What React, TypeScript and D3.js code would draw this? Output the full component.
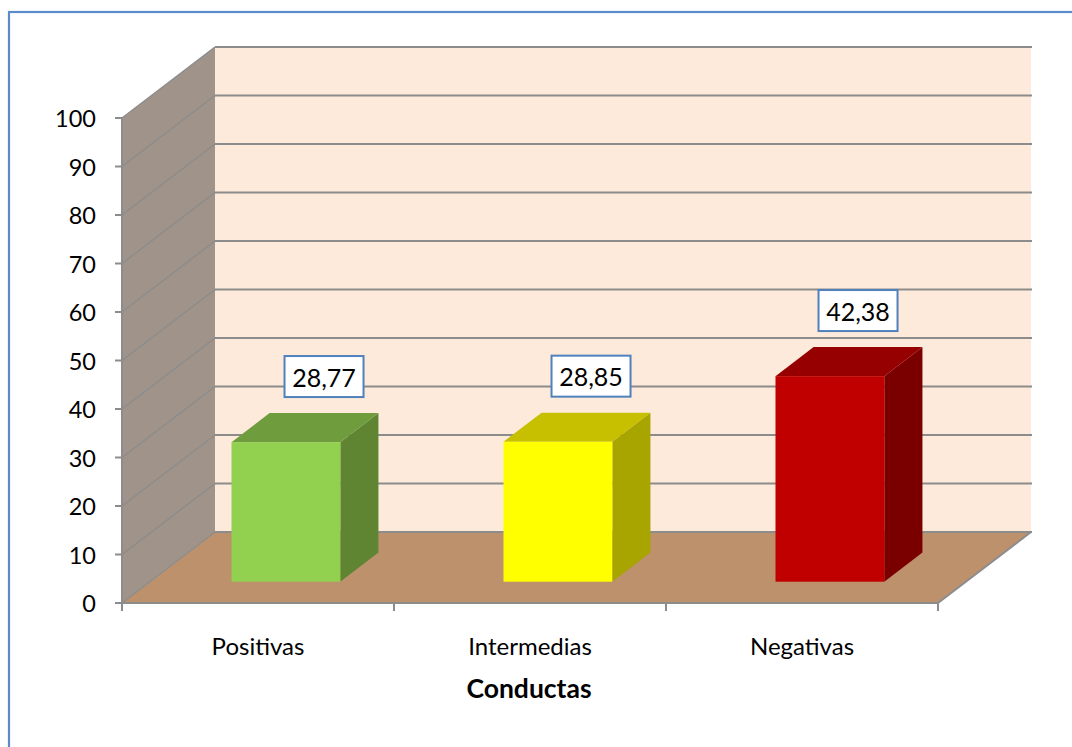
import React from "react";
import * as d3 from "d3";

// Chart data
const categories: string[] = ["Positivas", "Intermedias", "Negativas"];
const values: number[] = [28.77, 28.85, 42.38];
const valueLabels: string[] = ["28,77", "28,85", "42,38"];
const yTicks: number[] = [0, 10, 20, 30, 40, 50, 60, 70, 80, 90, 100];
const axisTitle = "Conductas";

// Bar face colours: front, top, side
const frontColors: string[] = ["#92D050", "#FFFF00", "#C00000"];
const topColors: string[] = ["#6F9C3D", "#C6C000", "#960000"];
const sideColors: string[] = ["#5F8533", "#A8A400", "#7A0000"];

const W = 1072;
const H = 747;

// Front plane of the 3D box
const X0 = 122;
const X1 = 938;
const Y0 = 603;
const Y1 = 118;
// Oblique depth offset to the back wall
const DX = 93;
const DY = -71;
// Depth range occupied by bars (fraction of full depth)
const F0 = 0.3;
const F1 = 0.71;

const FONT = "Lato, 'Open Sans', sans-serif";
const GRID = "#8C8C8C";

export default function App() {
  const x = d3
    .scaleBand<string>()
    .domain(categories)
    .range([X0, X1])
    .paddingInner(0.6)
    .paddingOuter(0.3);
  const xCat = d3.scaleBand<string>().domain(categories).range([X0, X1]).padding(0);
  const y = d3.scaleLinear().domain([0, 100]).range([Y0, Y1]);

  const pts = (arr: [number, number][]) => arr.map((p) => p.join(",")).join(" ");

  const backX0 = X0 + DX;
  const backX1 = X1 + DX;

  return (
    <svg
      width={W}
      height={H}
      style={{ position: "absolute", left: 0, top: 0, display: "block" }}
      fontFamily={FONT}
    >
      <rect x={0} y={0} width={W} height={H} fill="#FFFFFF" />
      {/* outer frame */}
      <rect x={9} y={12} width={1200} height={900} fill="none" stroke="#5B8BCC" strokeWidth={2.2} />

      {/* back wall */}
      <polygon
        points={pts([
          [backX0, y(100) + DY],
          [backX1, y(100) + DY],
          [backX1, y(0) + DY],
          [backX0, y(0) + DY],
        ])}
        fill="#FDEADA"
      />
      {/* left side wall */}
      <polygon
        points={pts([
          [X0, y(100)],
          [backX0, y(100) + DY],
          [backX0, y(0) + DY],
          [X0, y(0)],
        ])}
        fill="#A09389"
      />
      {/* floor */}
      <polygon
        points={pts([
          [X0, y(0)],
          [X1, y(0)],
          [backX1, y(0) + DY],
          [backX0, y(0) + DY],
        ])}
        fill="#BE916D"
      />

      {/* gridlines: back wall and side wall */}
      {yTicks.map((t) => (
        <g key={"g" + t}>
          <line x1={backX0} x2={backX1 + 1} y1={y(t) + DY} y2={y(t) + DY} stroke={GRID} strokeWidth={2} />
          <line x1={X0} x2={backX0} y1={y(t)} y2={y(t) + DY} stroke={GRID} strokeWidth={1.4} />
        </g>
      ))}

      {/* floor right edge */}
      <line x1={X1} y1={y(0)} x2={backX1} y2={y(0) + DY} stroke={GRID} strokeWidth={2} />

      {/* bars */}
      {categories.map((c, i) => {
        const bx0 = (x(c) as number) + F0 * DX;
        const bx1 = bx0 + x.bandwidth();
        const by0 = y(0) + F0 * DY;
        const byT = y(values[i]) + F0 * DY;
        const ox = (F1 - F0) * DX;
        const oy = (F1 - F0) * DY;
        return (
          <g key={c}>
            <polygon
              points={pts([
                [bx1, byT],
                [bx1 + ox, byT + oy],
                [bx1 + ox, by0 + oy],
                [bx1, by0],
              ])}
              fill={sideColors[i]}
            />
            <polygon
              points={pts([
                [bx0, byT],
                [bx0 + ox, byT + oy],
                [bx1 + ox, byT + oy],
                [bx1, byT],
              ])}
              fill={topColors[i]}
            />
            <rect x={bx0} y={byT} width={bx1 - bx0} height={by0 - byT} fill={frontColors[i]} />
          </g>
        );
      })}

      {/* value labels, placed above the back edge of each bar top */}
      {categories.map((c, i) => {
        const cx = (xCat(c) as number) + xCat.bandwidth() / 2 + F1 * DX - 5 * i;
        const cy = y(values[i]) + F1 * DY - 36.5;
        return (
          <g key={"l" + c}>
            <rect x={cx - 39.5} y={cy - 20.5} width={79} height={41} fill="#FFFFFF" stroke="#4F81BD" strokeWidth={2} />
            <text x={cx} y={cy} textAnchor="middle" dominantBaseline="central" fontSize={25} fill="#000">
              {valueLabels[i]}
            </text>
          </g>
        );
      })}

      {/* value axis */}
      <line x1={X0} x2={X0} y1={y(100)} y2={y(0)} stroke={GRID} strokeWidth={2} />
      {yTicks.map((t) => (
        <g key={"t" + t}>
          <line x1={X0 - 7} x2={X0} y1={y(t)} y2={y(t)} stroke={GRID} strokeWidth={2} />
          <text x={96} y={y(t)} textAnchor="end" dominantBaseline="central" fontSize={23.5} fill="#000">
            {t}
          </text>
        </g>
      ))}

      {/* category axis */}
      <line x1={X0} x2={X1} y1={y(0)} y2={y(0)} stroke={GRID} strokeWidth={2} />
      {[...categories.map((c) => xCat(c) as number), X1].map((tx, i) => (
        <line key={"xt" + i} x1={tx} x2={tx} y1={y(0)} y2={y(0) + 8} stroke={GRID} strokeWidth={2} />
      ))}
      {categories.map((c) => (
        <text
          key={"xl" + c}
          x={(xCat(c) as number) + xCat.bandwidth() / 2}
          y={655}
          textAnchor="middle"
          fontSize={24}
          fill="#000"
        >
          {c}
        </text>
      ))}
      <text x={529} y={698} textAnchor="middle" fontSize={26.5} fontWeight="bold" fill="#000">
        {axisTitle}
      </text>
    </svg>
  );
}
